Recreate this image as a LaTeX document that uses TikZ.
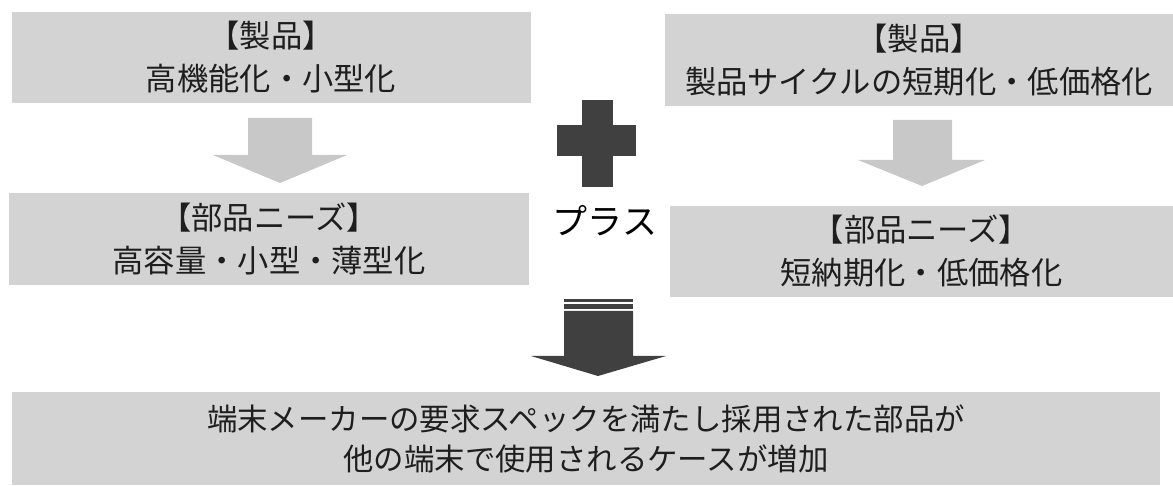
\documentclass[tikz,border=0pt]{standalone}
\usepackage{fontspec}
\newfontfamily\jp{Noto Sans CJK JP}
\definecolor{boxgray}{RGB}{211,211,211}
\definecolor{arrgray}{RGB}{200,200,200}
\definecolor{darkgray}{RGB}{64,64,64}
\definecolor{txt}{RGB}{30,30,30}
\begin{document}
\begin{tikzpicture}[x=1pt,y=-1pt,
  panel/.style={fill=boxgray, draw=none, inner sep=0pt, align=center, text=txt,
    font=\jp\fontsize{31.3}{43}\selectfont},
  lightarrow/.style={fill=arrgray, draw=none},
  darkshape/.style={fill=darkgray, draw=none}]
\useasboundingbox (0,0) rectangle (1173,486);
% boxes
\node[panel, minimum width=519pt, minimum height=91pt] (p1) at (271,57.5) {【製品】\\高機能化・小型化};
\node[panel, minimum width=508pt, minimum height=92pt] (p2) at (919,60) {【製品】\\製品サイクルの短期化・低価格化};
\node[panel, minimum width=520pt, minimum height=92pt] (n1) at (269,239) {【部品ニーズ】\\高容量・小型・薄型化};
\node[panel, minimum width=503pt, minimum height=91pt] (n2) at (921.5,251.5) {【部品ニーズ】\\短納期化・低価格化};
\node[panel, minimum width=1148pt, minimum height=93pt, font=\jp\fontsize{30.4}{40}\selectfont] (res) at (586,438.5) {端末メーカーの要求スペックを満たし採用された部品が\\他の端末で使用されるケースが増加};
% light arrows
\fill[lightarrow] (248,118) -- (312,118) -- (312,155) -- (347,155) -- (280,183) -- (213,155) -- (248,155) -- cycle;
\fill[lightarrow] (893,120) -- (952,120) -- (952,160) -- (985,160) -- (922,186) -- (858,160) -- (893,160) -- cycle;
% plus sign
\fill[darkshape] (582,100) rectangle (613,187);
\fill[darkshape] (557,125) rectangle (636,156);
\node[text=black, font=\jp\fontsize{35}{40}\selectfont, inner sep=0pt] (plus) at (605,221) {プラス};
% big arrow
\fill[darkshape] (564,299) rectangle (633,302);
\fill[darkshape] (564,304) rectangle (633,309);
\fill[darkshape] (564,311) -- (633,311) -- (633,356) -- (666,356) -- (598,376) -- (531,356) -- (564,356) -- cycle;
\end{tikzpicture}
\end{document}
